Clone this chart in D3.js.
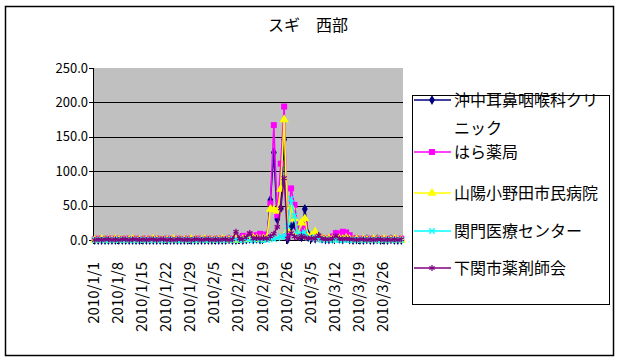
<!DOCTYPE html>
<meta charset="utf-8">
<style>
body { margin: 0; background: #fff; }
svg { display: block; }
text { font-family: "MS PGothic", "Noto Sans CJK JP", sans-serif; fill: #000; }
.axis path, .axis line { stroke: #000; shape-rendering: crispEdges; }
.grid line { stroke: #000; shape-rendering: crispEdges; }
</style>
<svg width="620" height="364"></svg>
<script src="https://d3js.org/d3.v7.min.js"></script>
<script>
// categories: every day from 2010/1/1 to 2010/3/31
var dates = d3.timeDay.range(new Date(2010, 0, 1), new Date(2010, 3, 1));
var fmt = d3.timeFormat("%Y/%-m/%-d");
var categories = dates.map(fmt);
var tickLabels = categories.filter(function(d, i) { return i % 7 === 0; });
var yTicks = [0, 50, 100, 150, 200, 250];

var names = ["沖中耳鼻咽喉科クリニック", "はら薬局", "山陽小野田市民病院", "関門医療センター", "下関市薬剤師会"];

var okinaka = [0,0,0,0,0,0,0,0,0,0, 0,0,0,0,0,0,0,0,0,0, 0,0,0,0,0,0,0,0,0,0, 0,0,0,0,0,0,0,0,0,1,
  0,0,1,0,1,2,1,2,1,3, 4,58,127,30,46,146,1,19,22,6, 4,45,8,3,2,5,2,1,1,2,
  8,2,1,3,1,0,1,0,0,1, 0,0,1,0,0,0,1,0,0,0];
var hara = [1,2,1,1,2,1,2,1,1,2, 1,1,2,1,1,2,1,1,2,1, 1,2,1,1,2,1,1,2,1,1, 2,1,1,2,1,1,2,1,1,2,
  1,2,3,6,5,8,6,7,9,8, 4,53,167,36,111,194,7,75,51,19, 12,22,5,3,4,2,3,2,3,5,
  10,9,12,11,7,3,2,1,2,1, 2,1,1,2,1,1,2,1,1,2];
var sanyo = [0,0,1,0,0,0,1,0,0,0, 0,1,0,0,0,0,0,1,0,0, 0,0,0,1,0,0,0,0,1,0, 0,0,1,0,0,0,0,1,0,0,
  0,1,0,1,2,1,3,2,1,2, 3,45,44,42,74,175,14,48,31,8, 25,31,4,6,12,3,2,1,2,1,
  1,2,1,3,1,0,1,0,1,0, 0,1,0,0,1,0,0,1,0,0];
var kanmon = [0,0,0,0,0,0,0,0,0,0, 0,0,0,0,0,0,0,0,0,0, 0,0,0,0,0,0,0,0,0,0, 0,0,0,0,0,0,0,0,0,0,
  0,1,0,0,1,0,0,1,0,0, 0,2,1,3,5,4,20,60,35,8, 10,11,3,2,4,1,0,1,0,0,
  0,0,0,0,0,0,0,0,0,0, 0,0,0,0,0,0,0,0,0,0];
var shimo = [0,1,0,1,1,0,1,0,1,1, 0,1,1,0,1,0,1,1,0,1, 1,0,1,0,1,1,0,1,0,1, 1,0,1,1,0,1,0,1,1,0,
  1,12,2,1,4,10,2,3,2,3, 2,5,9,19,46,90,2,10,5,3, 6,4,2,3,2,7,2,1,1,2,
  6,2,1,2,1,1,0,1,1,0, 1,0,1,1,0,1,0,1,0,1];

var series = [
  {name: names[0], values: okinaka, color: "#000080", symbol: d3.symbolDiamond, size: 30, fill: true},
  {name: names[1], values: hara, color: "#FF00FF", symbol: d3.symbolSquare, size: 36, fill: true},
  {name: names[2], values: sanyo, color: "#FFFF00", symbol: d3.symbolTriangle, size: 36, fill: true},
  {name: names[3], values: kanmon, color: "#00FFFF", symbol: d3.symbolTimes, size: 22, fill: false},
  {name: names[4], values: shimo, color: "#800080", symbol: d3.symbolAsterisk, size: 26, fill: false}
];

var svg = d3.select("svg");
var plotL = 93, plotR = 403, plotT = 68, plotB = 240;

// outer frame
svg.append("rect")
  .attr("x", 5.5).attr("y", 6.5).attr("width", 608).attr("height", 349)
  .attr("fill", "#fff").attr("stroke", "#000").attr("stroke-width", 1.5);

svg.append("text")
  .attr("x", 308).attr("y", 25).attr("dy", "0.35em")
  .attr("text-anchor", "middle").style("font-size", "16px")
  .text("スギ　西部");

var x = d3.scaleBand().domain(categories).range([plotL, plotR]);
var xTick = d3.scalePoint().domain(categories).range([plotL, plotR - x.bandwidth()]);
var y = d3.scaleLinear().domain([0, 250]).range([plotB, plotT]);

svg.append("rect")
  .attr("x", plotL).attr("y", plotT).attr("width", plotR - plotL).attr("height", plotB - plotT)
  .attr("fill", "#C0C0C0");

svg.append("g").attr("class", "grid")
  .selectAll("line").data([50, 100, 150, 200]).enter().append("line")
  .attr("x1", plotL).attr("x2", plotR)
  .attr("y1", function(d) { return Math.round(y(d)) + 0.5; })
  .attr("y2", function(d) { return Math.round(y(d)) + 0.5; });

var yAxis = svg.append("g").attr("class", "axis")
  .attr("transform", "translate(" + plotL + ",0)")
  .call(d3.axisLeft(y).tickValues(yTicks).tickSize(4).tickPadding(1).tickFormat(d3.format(".1f")));
yAxis.selectAll("text").style("font-size", "13px");

var xAxis = svg.append("g").attr("class", "axis")
  .attr("transform", "translate(0," + plotB + ")")
  .call(d3.axisBottom(xTick).tickValues(tickLabels).tickSize(4).tickSizeOuter(0));
xAxis.select(".domain").attr("d", "M" + plotL + ",0.5H" + plotR);
xAxis.selectAll("text")
  .style("font-size", "15px")
  .attr("text-anchor", "end")
  .attr("transform", "rotate(-90)")
  .attr("x", -22).attr("y", 0).attr("dy", "0.35em");

var line = d3.line()
  .x(function(d, i) { return x(categories[i]) + x.bandwidth() / 2; })
  .y(function(d) { return y(d); });

series.forEach(function(s) {
  var g = svg.append("g");
  g.append("path").datum(s.values)
    .attr("d", line).attr("fill", "none")
    .attr("stroke", s.color).attr("stroke-width", 1.5);
  g.selectAll("path.m").data(s.values).enter().append("path")
    .attr("class", "m")
    .attr("transform", function(d, i) {
      return "translate(" + (x(categories[i]) + x.bandwidth() / 2) + "," + y(d) + ")";
    })
    .attr("d", d3.symbol().type(s.symbol).size(s.size))
    .attr("fill", s.fill ? s.color : "none")
    .attr("stroke", s.color).attr("stroke-width", s.fill ? 0 : 1.2);
});

// legend
var legend = svg.append("g");
legend.append("rect")
  .attr("x", 412.5).attr("y", 95.5).attr("width", 197).attr("height", 209)
  .attr("fill", "#fff").attr("stroke", "#000");
var legY = [100, 152, 193, 231, 268];
series.forEach(function(s, i) {
  var g = legend.append("g").attr("transform", "translate(0," + legY[i] + ")");
  g.append("line").attr("x1", 414).attr("x2", 451).attr("y1", 0).attr("y2", 0)
    .attr("stroke", s.color).attr("stroke-width", 1.5);
  g.append("path").attr("transform", "translate(432,0)")
    .attr("d", d3.symbol().type(s.symbol).size(s.size))
    .attr("fill", s.fill ? s.color : "none")
    .attr("stroke", s.color).attr("stroke-width", s.fill ? 0 : 1.2);
  var t = g.append("text").attr("x", 454).attr("dy", "0.35em").style("font-size", "16px");
  if (i === 0) {
    t.append("tspan").attr("x", 454).text("沖中耳鼻咽喉科クリ");
    t.append("tspan").attr("x", 454).attr("dy", "1.75em").text("ニック");
  } else {
    t.text(s.name);
  }
});
</script>
